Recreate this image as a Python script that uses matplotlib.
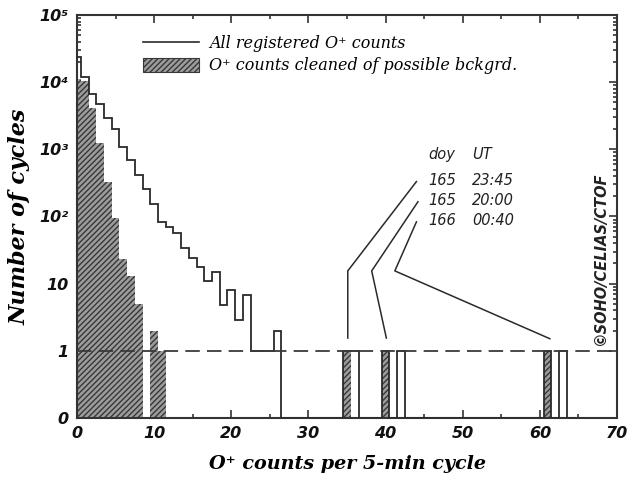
import numpy as np
import matplotlib
matplotlib.use('Agg')
from matplotlib import pyplot as plt
from matplotlib.lines import Line2D
from matplotlib.patches import Patch

# histogram values (counts per cycle -> number of cycles)
all_n = list(range(0, 27)) + [35, 36, 40, 42, 61, 63]
all_cycles = [24000, 12000, 6700, 4700, 2900, 2000, 1100, 690, 420, 260,
              156, 83, 70, 56, 34, 24, 18, 11, 15, 4.8,
              8, 2.9, 6.8, 1, 1, 1, 2,
              1, 1, 1, 1, 1, 1]
clean_n = list(range(0, 12)) + [35, 40, 61]
clean_cycles = [11000, 10500, 4100, 1250, 330, 94, 23, 13, 5, 0, 2, 1,
                1, 1, 1]

xticks = [0, 10, 20, 30, 40, 50, 60, 70]
ytick_labels = ['0', '1', '10', '10²', '10³', '10⁴', '10⁵']

# event annotations
ev_text = ['165', '165', '166']
ev_time = ['23:45', '20:00', '00:40']
ev_lines_x = [[44.0, 35.1, 35.1], [44.2, 38.2, 40.1], [44.0, 41.2, 61.3]]
ev_lines_y = [[3.52, 2.19, 1.19], [3.22, 2.19, 1.19], [2.92, 2.19, 1.18]]


def ypos(v):
    # "0" sits one decade below "1" on this plot
    v = np.asarray(v, dtype=float)
    return np.where(v > 0, np.log10(np.maximum(v, 1e-9)) + 1, 0)


nbins = 65
all_full = np.zeros(nbins)
all_full[all_n] = all_cycles
clean_full = np.zeros(nbins)
clean_full[clean_n] = clean_cycles
edges = np.arange(nbins + 1) - 0.5

plt.rcParams['hatch.linewidth'] = 1.0

fig = plt.figure(figsize=(6.38, 4.87), dpi=100)
ax = fig.add_axes([0.1207, 0.1417, 0.8464, 0.8275])

ax.bar(np.arange(nbins), ypos(clean_full), width=1.0, align='center',
       facecolor='#9c9c9c', edgecolor='#383838', linewidth=0, hatch='//////',
       zorder=2)
ax.stairs(ypos(all_full), edges, baseline=0, color='#2a2a2a', linewidth=1.3,
          zorder=3)
ax.axhline(1, color='#3a3a3a', linewidth=1.3, dashes=(8, 4), zorder=4)

for lx, ly in zip(ev_lines_x, ev_lines_y):
    ax.plot(lx, ly, color='#2a2a2a', linewidth=1.1, zorder=4)

tfont = dict(family='DejaVu Sans', style='italic', fontsize=10.5, color='#222')
ax.text(45.5, 3.85, 'doy', **tfont)
ax.text(51.2, 3.85, 'UT', **tfont)
for i, (d, t) in enumerate(zip(ev_text, ev_time)):
    yy = 3.47 - 0.3 * i
    ax.text(45.5, yy, d, **tfont)
    ax.text(51.2, yy, t, **tfont)

ax.text(67.9, 2.38, '©SOHO/CELIAS/CTOF', rotation=90, ha='center',
        va='center', family='DejaVu Sans', style='italic', weight='bold',
        fontsize=10.5, color='#222')

ax.set_xlim(0, 70)
ax.set_ylim(0, 6)

ax.set_xticks(xticks)
ax.set_xticks(np.arange(5, 70, 10), minor=True)
ax.set_yticks(range(7))
ax.set_yticklabels(ytick_labels)
minor_y = [d + np.log10(k) for d in range(1, 6) for k in range(2, 10)]
ax.set_yticks(minor_y, minor=True)
ax.tick_params(which='both', direction='in', top=True, right=True,
               width=1.2, color='#333')
ax.tick_params(which='major', length=6, pad=6)
ax.tick_params(which='minor', length=3)
for lab in ax.get_xticklabels() + ax.get_yticklabels():
    lab.set_fontstyle('italic')
    lab.set_fontweight('bold')
    lab.set_fontsize(11.5)
    lab.set_color('#111')

for sp in ax.spines.values():
    sp.set_linewidth(1.5)
    sp.set_color('#333')

lfont = dict(family='DejaVu Serif', style='italic', weight='bold')
ax.set_xlabel('O⁺ counts per 5-min cycle', fontsize=13.8, labelpad=10, **lfont)
ax.set_ylabel('Number of cycles', fontsize=16, labelpad=6, **lfont)

handles = [Line2D([0], [0], color='#2a2a2a', linewidth=1.2),
           Patch(facecolor='#9c9c9c', edgecolor='#383838', hatch='//////',
                 linewidth=0.8)]
ax.legend(handles, ['All registered O⁺ counts',
                    'O⁺ counts cleaned of possible bckgrd.'],
          loc='upper left', bbox_to_anchor=(0.095, 0.985), frameon=False,
          handlelength=3.5, handleheight=1.0, handletextpad=0.65,
          labelspacing=0.3, prop=dict(family='DejaVu Serif', style='italic',
                                      size=11.5))

plt.savefig('out.png', dpi=100)
